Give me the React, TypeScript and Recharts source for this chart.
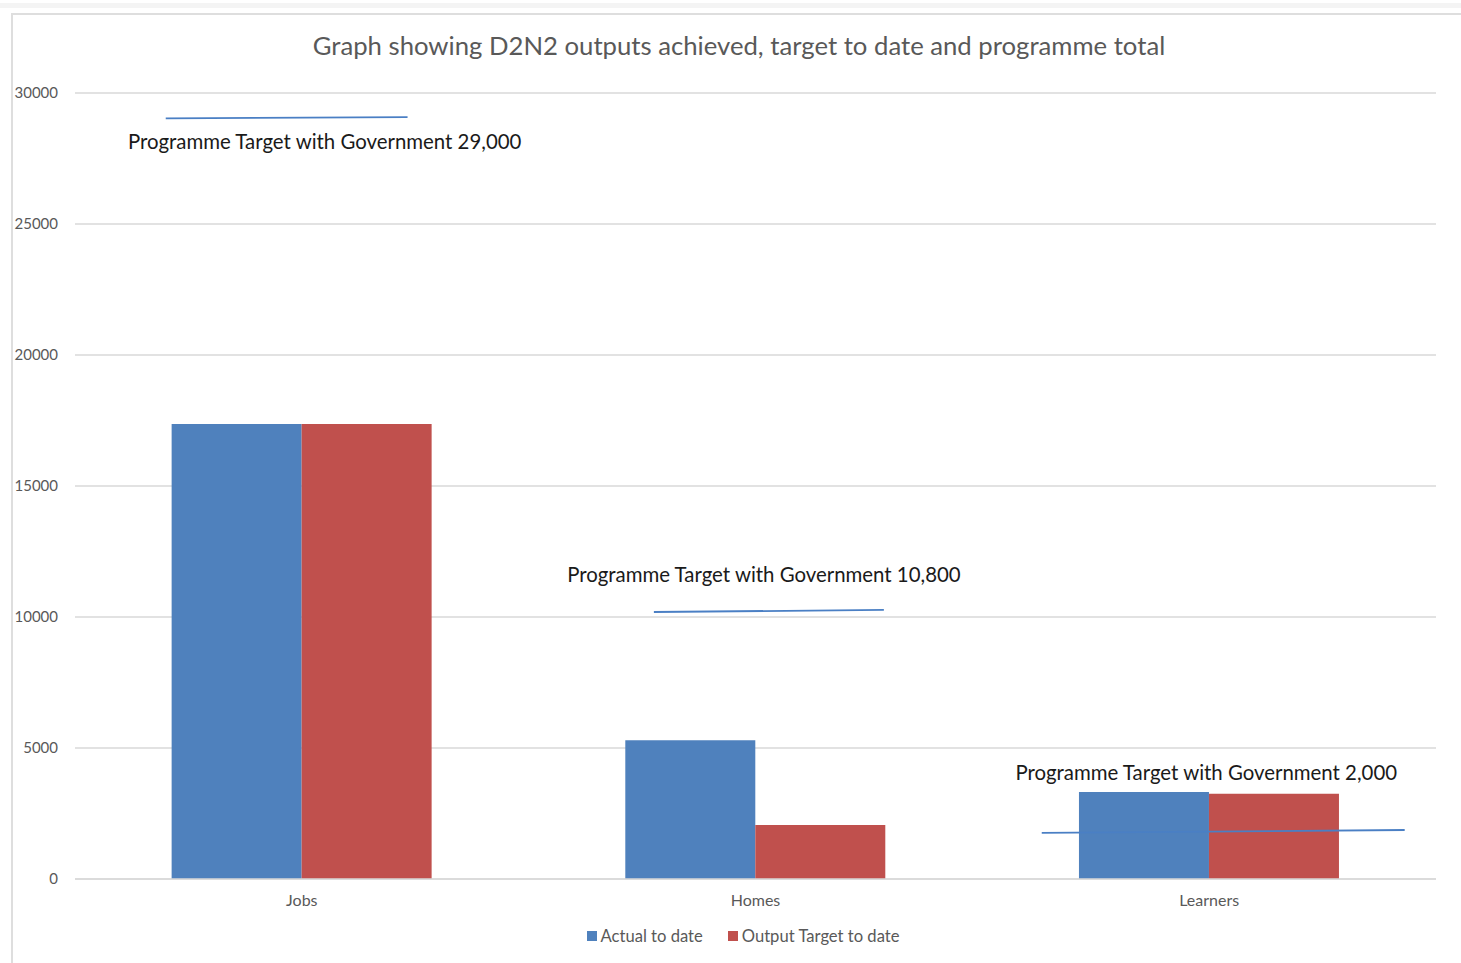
import React from "react";
import {
  BarChart,
  Bar,
  XAxis,
  YAxis,
  CartesianGrid,
  ReferenceLine,
} from "recharts";

// values
const categories = ["Jobs", "Homes", "Learners"];
const actualToDate = [17370, 5300, 3320];
const outputTargetToDate = [17370, 2060, 3250];
const yTicks = [0, 5000, 10000, 15000, 20000, 25000, 30000];

// hand-drawn programme target lines (x in category units, y in outputs)
const targetLabels = [
  "Programme Target with Government 29,000",
  "Programme Target with Government 10,800",
  "Programme Target with Government 2,000",
];
const targetFrom = [0.2, 1.276, 2.131];
const targetTo = [0.733, 1.783, 2.931];
const targetLevelFrom = [29030, 10190, 1760];
const targetLevelTo = [29080, 10270, 1870];

const series = [
  { key: "actual", name: "Actual to date", color: "#4f81bd" },
  { key: "target", name: "Output Target to date", color: "#c0504d" },
];

const data = categories.map((name, i) => ({
  name,
  pos: i + 0.5,
  actual: actualToDate[i],
  target: outputTargetToDate[i],
}));

// label offsets from the line midpoint, px
const labelOffsets = [
  { dx: 38, dy: 31 },
  { dx: -5, dy: -29 },
  { dx: -17, dy: -51 },
];

const FONT = "Lato, 'Open Sans', sans-serif";
const GREY = "#595959";

function targetLabel(text: string, dx: number, dy: number) {
  return (props: any) => {
    const vb = props.viewBox || {};
    let cx: number, cy: number;
    if (vb.x1 !== undefined) {
      cx = (vb.x1 + vb.x2) / 2;
      cy = (vb.y1 + vb.y2) / 2;
    } else {
      cx = vb.x + (vb.width || 0) / 2;
      cy = vb.y + (vb.height || 0) / 2;
    }
    return (
      <text
        x={cx + dx}
        y={cy + dy}
        textAnchor="middle"
        fontFamily={FONT}
        fontSize={20.4}
        fill="#1a1a1a"
      >
        {text}
      </text>
    );
  };
}

export default function App() {
  return (
    <div
      style={{
        position: "absolute",
        left: 0,
        top: 0,
        width: 1461,
        height: 963,
        background: "#fff",
        overflow: "hidden",
        fontFamily: FONT,
      }}
    >
      <div style={{ position: "absolute", left: 0, top: 3, width: 1461, height: 5, background: "#f4f4f4" }} />
      <div
        style={{
          position: "absolute",
          left: 11,
          top: 13,
          width: 1450,
          height: 950,
          borderTop: "2px solid #dedede",
          borderLeft: "2px solid #dedede",
        }}
      />
      <div
        style={{
          position: "absolute",
          left: 0,
          top: 30,
          width: 1461,
          paddingLeft: 17,
          boxSizing: "border-box",
          textAlign: "center",
          fontSize: 25.7,
          color: GREY,
        }}
      >
        Graph showing D2N2 outputs achieved, target to date and programme total
      </div>
      <div style={{ position: "absolute", left: 0, top: 0 }}>
        <BarChart
          width={1461}
          height={963}
          data={data}
          margin={{ top: 93, right: 25, bottom: 54, left: 0 }}
          barCategoryGap="21.3%"
          barGap={0}
        >
          <CartesianGrid vertical={false} stroke="#d9d9d9" strokeWidth={1.5} />
          <XAxis
            dataKey="name"
            axisLine={{ stroke: "#d9d9d9", strokeWidth: 1.5 }}
            tickLine={false}
            tickSize={0}
            tickMargin={16}
            tick={{ fill: GREY, fontSize: 16, fontFamily: FONT }}
          />
          <XAxis
            xAxisId="pos"
            dataKey="pos"
            type="number"
            domain={[0, 3]}
            ticks={[0, 1, 2, 3]}
            allowDataOverflow
            hide
          />
          <YAxis
            width={75}
            domain={[0, 30000]}
            ticks={yTicks}
            axisLine={false}
            tickLine={false}
            tickSize={0}
            tickMargin={17}
            tick={{ fill: GREY, fontSize: 15, fontFamily: FONT }}
          />
          {series.map((s) => (
            <Bar key={s.key} dataKey={s.key} name={s.name} fill={s.color} isAnimationActive={false} />
          ))}
          {targetLabels.map((text, i) => (
            <ReferenceLine
              key={text}
              xAxisId="pos"
              segment={[
                { x: targetFrom[i], y: targetLevelFrom[i] },
                { x: targetTo[i], y: targetLevelTo[i] },
              ]}
              stroke="#4a7fc4"
              strokeWidth={1.8}
              ifOverflow="visible"
              label={targetLabel(text, labelOffsets[i].dx, labelOffsets[i].dy)}
            />
          ))}
        </BarChart>
      </div>
      <div
        style={{
          position: "absolute",
          left: 0,
          top: 926,
          width: 1461,
          paddingLeft: 25,
          boxSizing: "border-box",
          display: "flex",
          justifyContent: "center",
          gap: 25,
          fontSize: 16.6,
          color: GREY,
        }}
      >
        {series.map((s) => (
          <div key={s.key} style={{ display: "flex", alignItems: "center" }}>
            <span style={{ display: "inline-block", width: 10, height: 10, background: s.color, marginRight: 4 }} />
            <span>{s.name}</span>
          </div>
        ))}
      </div>
    </div>
  );
}
